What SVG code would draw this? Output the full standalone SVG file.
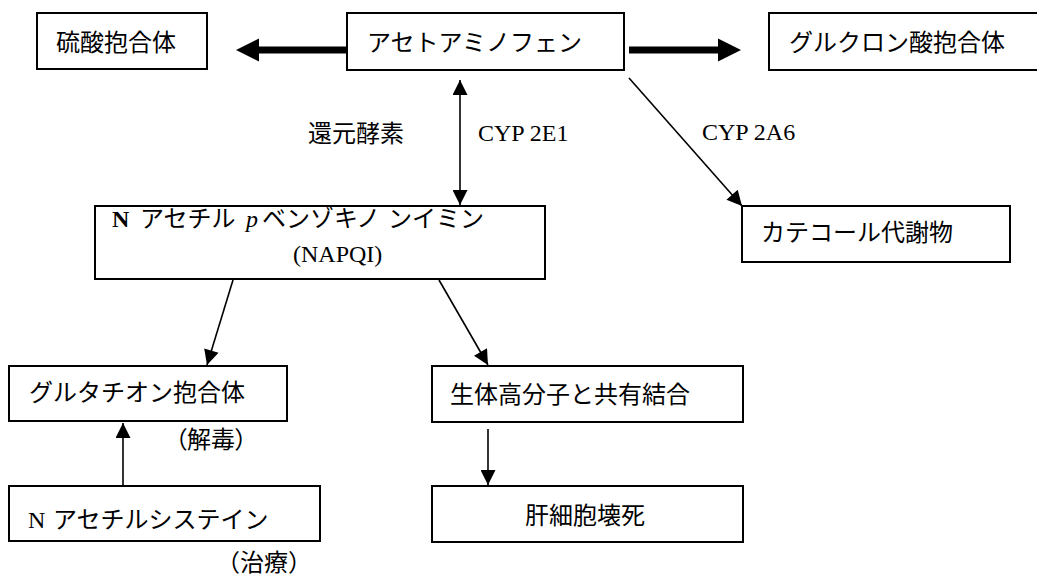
<svg xmlns="http://www.w3.org/2000/svg" width="1037" height="577" viewBox="0 0 1037 577">
<style>
.box{fill:#fff;stroke:#000;stroke-width:2}
.jp{font-family:"Noto Sans CJK JP","Noto Sans",sans-serif;font-size:24px;fill:#000}
.sf{font-family:"Liberation Serif","Noto Sans CJK JP",serif;font-size:24px;fill:#000}
.palt{font-feature-settings:"palt"}
.ln{stroke:#000;stroke-width:1.6;fill:none}
.thick{stroke:#000;stroke-width:7;fill:none}
</style>
<defs>
<marker id="ah" viewBox="0 0 10 10" refX="10" refY="5" markerUnits="userSpaceOnUse" markerWidth="16" markerHeight="15" orient="auto-start-reverse">
<path d="M0,0 L10,5 L0,10 z" fill="#000"/>
</marker>
<marker id="big" viewBox="0 0 10 10" refX="0" refY="5" markerUnits="userSpaceOnUse" markerWidth="23" markerHeight="24" orient="auto">
<path d="M0,0 L10,5 L0,10 z" fill="#000"/>
</marker>
</defs>
<g id="connectors">
<line class="thick" x1="347" y1="50" x2="259" y2="50" marker-end="url(#big)"/>
<line class="thick" x1="629" y1="50" x2="718" y2="50" marker-end="url(#big)"/>
<line class="ln" x1="460" y1="80" x2="460" y2="205" marker-start="url(#ah)" marker-end="url(#ah)"/>
<line class="ln" x1="629" y1="78" x2="742" y2="206" marker-end="url(#ah)"/>
<line class="ln" x1="233" y1="280" x2="207" y2="365" marker-end="url(#ah)"/>
<line class="ln" x1="439" y1="280" x2="488" y2="365" marker-end="url(#ah)"/>
<line class="ln" x1="123" y1="486" x2="123" y2="423" marker-end="url(#ah)"/>
<line class="ln" x1="488" y1="429" x2="488" y2="485" marker-end="url(#ah)"/>
</g>
<g id="labels">
<text class="jp" x="308" y="142">還元酵素</text>
<text class="sf" x="478" y="141" font-size="26">CYP 2E1</text>
<text class="sf" x="702" y="140" font-size="26">CYP 2A6</text>
<text class="jp palt" x="175" y="448">（解毒）</text>
<text class="jp" x="216" y="571" font-size="23">（治療）</text>
</g>
<g id="sulfate">
<rect class="box" x="37" y="13" width="170" height="56"/>
<text class="jp" x="56" y="51">硫酸抱合体</text>
</g>
<g id="acetaminophen">
<rect class="box" x="347" y="13" width="277" height="57"/>
<text class="jp" x="367" y="51">アセトアミノフェン</text>
</g>
<g id="glucuronide">
<rect class="box" x="769" y="13" width="275" height="57"/>
<text class="jp" x="789" y="51">グルクロン酸抱合体</text>
</g>
<g id="napqi">
<rect class="box" x="95" y="206" width="450" height="73"/>
<text class="jp" y="227"><tspan class="sf" x="112" font-weight="bold" font-size="26">N</tspan><tspan x="140">アセチル</tspan><tspan class="sf" x="246" font-style="italic" font-size="26">p</tspan><tspan x="262">ベンゾキノ</tspan><tspan x="388">ンイミン</tspan></text>
<text class="sf" x="293" y="262">(NAPQI)</text>
</g>
<g id="catechol">
<rect class="box" x="742" y="206" width="268" height="56"/>
<text class="jp" x="761" y="241">カテコール代謝物</text>
</g>
<g id="glutathione">
<rect class="box" x="9" y="366" width="278" height="55"/>
<text class="jp" x="29" y="401">グルタチオン抱合体</text>
</g>
<g id="covalent">
<rect class="box" x="432" y="366" width="311" height="56"/>
<text class="jp" x="450" y="403">生体高分子と共有結合</text>
</g>
<g id="nac">
<rect class="box" x="9" y="486" width="311" height="55"/>
<text class="jp" y="528"><tspan class="sf" x="28" font-size="26">N</tspan><tspan x="53">アセチルシステイン</tspan></text>
</g>
<g id="necrosis">
<rect class="box" x="432" y="486" width="311" height="56"/>
<text class="jp" x="525" y="524">肝細胞壊死</text>
</g>
</svg>
